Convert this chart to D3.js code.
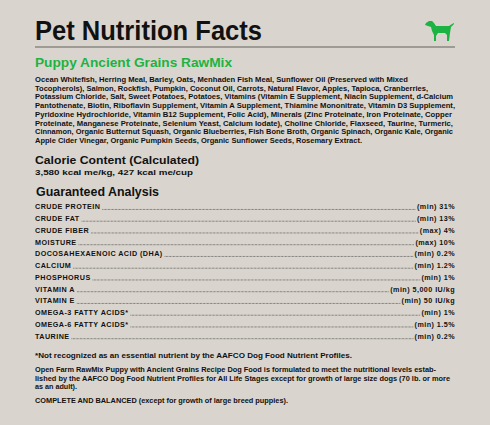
<!DOCTYPE html>
<html><head><meta charset="utf-8">
<script src="https://cdn.jsdelivr.net/npm/d3@7"></script>
<style>
body{margin:0;background:#d9d5ce;}
text{font-family:"Liberation Sans",Arial,sans-serif;fill:#111;}
</style></head><body>
<div id="label"></div>
<script>
var ingredientLines = [
  "Ocean Whitefish, Herring Meal, Barley, Oats, Menhaden Fish Meal, Sunflower Oil (Preserved with Mixed",
  "Tocopherols), Salmon, Rockfish, Pumpkin, Coconut Oil, Carrots, Natural Flavor, Apples, Tapioca, Cranberries,",
  "Potassium Chloride, Salt, Sweet Potatoes, Potatoes, Vitamins (Vitamin E Supplement, Niacin Supplement, d-Calcium",
  "Pantothenate, Biotin, Riboflavin Supplement, Vitamin A Supplement, Thiamine Mononitrate, Vitamin D3 Supplement,",
  "Pyridoxine Hydrochloride, Vitamin B12 Supplement, Folic Acid), Minerals (Zinc Proteinate, Iron Proteinate, Copper",
  "Proteinate, Manganese Proteinate, Selenium Yeast, Calcium Iodate), Choline Chloride, Flaxseed, Taurine, Turmeric,",
  "Cinnamon, Organic Butternut Squash, Organic Blueberries, Fish Bone Broth, Organic Spinach, Organic Kale, Organic",
  "Apple Cider Vinegar, Organic Pumpkin Seeds, Organic Sunflower Seeds, Rosemary Extract."
];
var ingredientEnds = [408, 428, 453, 455, 452, 453, 453, 362];
var nutrients = ["CRUDE PROTEIN","CRUDE FAT","CRUDE FIBER","MOISTURE","DOCOSAHEXAENOIC ACID (DHA)","CALCIUM",
  "PHOSPHORUS","VITAMIN A","VITAMIN E","OMEGA-3 FATTY ACIDS*","OMEGA-6 FATTY ACIDS*","TAURINE"];
var amounts = ["(min) 31%","(min) 13%","(max) 4%","(max) 10%","(min) 0.2%","(min) 1.2%",
  "(min) 1%","(min) 5,000 IU/kg","(min) 50 IU/kg","(min) 1%","(min) 1.5%","(min) 0.2%"];
var footLines = [
  "Open Farm RawMix Puppy with Ancient Grains Recipe Dog Food is formulated to meet the nutritional levels estab-",
  "lished by the AAFCO Dog Food Nutrient Profiles for All Life Stages except for growth of large size dogs (70 lb. or more",
  "as an adult)."
];

var W = 490, H = 425, L = 35, R = 455;
var svg = d3.select("#label").append("svg").attr("width", W).attr("height", H);
svg.append("rect").attr("width", W).attr("height", H).attr("fill", "#d9d5ce");

function txt(x, yy, size, len, s) {
  return svg.append("text").attr("x", x).attr("y", yy).attr("font-size", size).attr("font-weight", "bold")
    .attr("textLength", len).attr("lengthAdjust", "spacingAndGlyphs").text(s);
}

txt(L, 40, 27.5, 227, "Pet Nutrition Facts");
svg.append("line").attr("x1", L).attr("x2", R).attr("y1", 47).attr("y2", 47)
  .attr("stroke", "#8a8782").attr("stroke-width", 1.3);

// dog icon
svg.append("path").attr("fill", "#1db342")
  .attr("d", "M426,23 l3,-2 l3,0 l2,2 l2,3 l13,0 l3,-2 l2,-1 l0,1 l-3,3 l-1,6 l-1,8 l-2,0 l0,-6 l-2,-2 l-7,0 l-2,3 l0,5 l-2,0 l0,-6 l-2,-4 l-1,-4 l-3,-1 l-3,-1 z");

txt(L, 67, 13, 197, "Puppy Ancient Grains RawMix").style("fill", "#1db342");

var yIng = d3.scaleLinear().domain([0, 1]).range([82, 90.7]);
svg.selectAll(".ing").data(ingredientLines).enter().append("text")
  .attr("x", L).attr("y", (d, i) => yIng(i)).attr("font-size", 6.6).attr("font-weight", "bold")
  .attr("textLength", (d, i) => ingredientEnds[i] - L).attr("lengthAdjust", "spacingAndGlyphs").text(d => d);

txt(L, 164, 11, 164, "Calorie Content (Calculated)");
txt(L, 175, 7.2, 158, "3,580 kcal me/kg, 427 kcal me/cup");
txt(36, 196, 12, 123, "Guaranteed Analysis");

var y = d3.scaleBand().domain(nutrients).range([201, 342]);
var rows = svg.selectAll(".row").data(nutrients).enter().append("g")
  .attr("transform", d => `translate(0,${y(d) + y.bandwidth() * 0.72})`);
rows.each(function(d, i) {
  var g = d3.select(this);
  var lab = g.append("text").attr("x", L).attr("font-size", 7.2).attr("font-weight", "bold")
    .style("letter-spacing", "0.45px").text(d);
  var val = g.append("text").attr("x", R).attr("text-anchor", "end").attr("font-size", 7.2)
    .attr("font-weight", "bold").style("letter-spacing", "0.45px").text(amounts[i]);
  var x1 = L + lab.node().getComputedTextLength() + 2;
  var x2 = R - val.node().getComputedTextLength() - 1;
  g.append("line").attr("x1", x1).attr("x2", x2).attr("y1", 0).attr("y2", 0)
    .attr("stroke", "#444").attr("stroke-width", 0.8).attr("stroke-dasharray", "0.7,0.7");
});

txt(L, 358, 6.8, 317, "*Not recognized as an essential nutrient by the AAFCO Dog Food Nutrient Profiles.");
var footEnds = [436, 450, 77];
svg.selectAll(".foot").data(footLines).enter().append("text")
  .attr("x", L).attr("y", (d, i) => 372 + i * 8.7).attr("font-size", 6.6).attr("font-weight", "bold")
  .attr("textLength", (d, i) => footEnds[i] - L).attr("lengthAdjust", "spacingAndGlyphs").text(d => d);
txt(L, 403, 6.8, 253, "COMPLETE AND BALANCED (except for growth of large breed puppies).");
</script></body></html>
